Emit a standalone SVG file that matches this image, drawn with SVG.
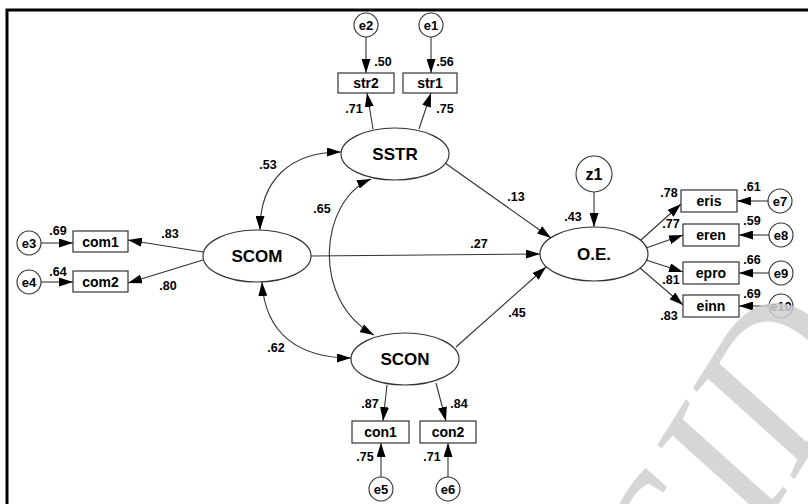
<svg xmlns="http://www.w3.org/2000/svg" width="808" height="504" viewBox="0 0 808 504">
<defs>
<marker id="ah" markerUnits="userSpaceOnUse" markerWidth="14" markerHeight="9" refX="14" refY="4.5" orient="auto-start-reverse" viewBox="0 0 14 9">
<path d="M0,0 L14,4.5 L0,9 z" fill="#000"/>
</marker>
<style>
.ln{stroke:#333;stroke-width:1.1;fill:none;marker-end:url(#ah)}
.cv{stroke:#333;stroke-width:1.1;fill:none;marker-start:url(#ah);marker-end:url(#ah)}
.lat{fill:#fff;stroke:#333;stroke-width:1.2}
.box{fill:#fff;stroke:#333;stroke-width:1.2}
.err{fill:#fff;stroke:#333;stroke-width:1.1}
.tl{font-family:"Liberation Sans",Arial,sans-serif;font-weight:bold;font-size:17px;text-anchor:middle}
.tb{font-family:"Liberation Sans",Arial,sans-serif;font-weight:bold;font-size:14px;text-anchor:middle}
.te{font-family:"Liberation Sans",Arial,sans-serif;font-weight:bold;font-size:13px;text-anchor:middle}
.n{font-family:"Liberation Sans",Arial,sans-serif;font-weight:bold;font-size:12.5px;text-anchor:middle}
</style>
</defs>
<rect x="0" y="0" width="808" height="504" fill="#fff"/>
<rect x="7" y="10" width="900" height="600" fill="none" stroke="#000" stroke-width="3"/>

<g id="connectors">
<path class="ln" d="M366 37 L366 73"/>
<path class="ln" d="M431 37 L431 73"/>
<path class="ln" d="M373 129 L367 93"/>
<path class="ln" d="M419 129 L431 93"/>
<path class="ln" d="M41 243 L73 243"/>
<path class="ln" d="M41 282 L73 282"/>
<path class="ln" d="M203 252 L128 240"/>
<path class="ln" d="M203 260 L128 283"/>
<path class="ln" d="M445 163 L551 238"/>
<path class="ln" d="M311 256 L540 254"/>
<path class="ln" d="M456 347 L546 267"/>
<path class="ln" d="M594 192 L594 227"/>
<path class="ln" d="M641 240 L681 204"/>
<path class="ln" d="M646 248 L683 235"/>
<path class="ln" d="M646 260 L683 272"/>
<path class="ln" d="M640 268 L683 305"/>
<path class="ln" d="M768 201 L737 201"/>
<path class="ln" d="M769 235 L739 235"/>
<path class="ln" d="M769 273 L739 273"/>
<path class="ln" d="M769 306 L739 306"/>
<path class="ln" d="M387 385 L383 421"/>
<path class="ln" d="M436 383 L446 421"/>
<path class="ln" d="M381 477 L381 443"/>
<path class="ln" d="M448 477 L448 443"/>
<path class="cv" d="M260 230 C260 180 290 152 341 152"/>
<path class="cv" d="M262 282 C265 335 300 358 351 358"/>
<path class="cv" d="M371 179 C320 200 310 300 374 335"/>
</g>

<g id="SSTR"><ellipse class="lat" cx="395" cy="154" rx="54" ry="26"/><text class="tl" x="395" y="160">SSTR</text></g>
<g id="SCOM"><ellipse class="lat" cx="257" cy="256" rx="54" ry="26"/><text class="tl" x="257" y="262">SCOM</text></g>
<g id="SCON"><ellipse class="lat" cx="405" cy="359" rx="54" ry="26"/><text class="tl" x="405" y="365">SCON</text></g>
<g id="OE"><ellipse class="lat" cx="594" cy="254" rx="54" ry="27"/><text class="tl" x="594" y="260">O.E.</text></g>

<g id="str2"><rect class="box" x="338" y="73" width="56" height="20"/><text class="tb" x="366" y="88">str2</text></g>
<g id="str1"><rect class="box" x="403" y="73" width="54" height="20"/><text class="tb" x="430" y="88">str1</text></g>
<g id="com1"><rect class="box" x="73" y="231" width="55" height="21"/><text class="tb" x="100.5" y="247">com1</text></g>
<g id="com2"><rect class="box" x="73" y="271" width="55" height="21"/><text class="tb" x="100.5" y="287">com2</text></g>
<g id="eris"><rect class="box" x="681" y="190" width="56" height="22"/><text class="tb" x="709" y="206">eris</text></g>
<g id="eren"><rect class="box" x="683" y="224" width="56" height="22"/><text class="tb" x="711" y="240">eren</text></g>
<g id="epro"><rect class="box" x="683" y="262" width="56" height="22"/><text class="tb" x="711" y="278">epro</text></g>
<g id="einn"><rect class="box" x="683" y="295" width="56" height="22"/><text class="tb" x="711" y="311">einn</text></g>
<g id="con1"><rect class="box" x="352" y="421" width="57" height="22"/><text class="tb" x="380.5" y="437">con1</text></g>
<g id="con2"><rect class="box" x="420" y="421" width="56" height="22"/><text class="tb" x="448" y="437">con2</text></g>

<g id="e1"><circle class="err" cx="431" cy="25" r="12"/><text class="te" x="431" y="29.5">e1</text></g>
<g id="e2"><circle class="err" cx="366" cy="25" r="12"/><text class="te" x="366" y="29.5">e2</text></g>
<g id="e3"><circle class="err" cx="29" cy="243" r="12"/><text class="te" x="29" y="247.5">e3</text></g>
<g id="e4"><circle class="err" cx="29" cy="282" r="12"/><text class="te" x="29" y="286.5">e4</text></g>
<g id="e5"><circle class="err" cx="381" cy="489" r="12"/><text class="te" x="381" y="493.5">e5</text></g>
<g id="e6"><circle class="err" cx="448" cy="489" r="12"/><text class="te" x="448" y="493.5">e6</text></g>
<g id="e7"><circle class="err" cx="780" cy="201" r="12"/><text class="te" x="780" y="205.5">e7</text></g>
<g id="e8"><circle class="err" cx="781" cy="235" r="12"/><text class="te" x="781" y="239.5">e8</text></g>
<g id="e9"><circle class="err" cx="781" cy="273" r="12"/><text class="te" x="781" y="277.5">e9</text></g>
<g id="e10"><circle class="err" cx="781" cy="306" r="12"/><text class="te" x="781" y="310.5">e10</text></g>
<g id="z1"><circle class="err" cx="594" cy="174" r="18"/><text class="tb" x="594" y="180" style="font-size:16px">z1</text></g>

<g id="labels">
<text class="n" x="383" y="66">.50</text>
<text class="n" x="445" y="66">.56</text>
<text class="n" x="354" y="113">.71</text>
<text class="n" x="445" y="113">.75</text>
<text class="n" x="268" y="169">.53</text>
<text class="n" x="322" y="213">.65</text>
<text class="n" x="276" y="352">.62</text>
<text class="n" x="516" y="201">.13</text>
<text class="n" x="479" y="248">.27</text>
<text class="n" x="517" y="317">.45</text>
<text class="n" x="573" y="221">.43</text>
<text class="n" x="58" y="235">.69</text>
<text class="n" x="58" y="276">.64</text>
<text class="n" x="170" y="238">.83</text>
<text class="n" x="168" y="290">.80</text>
<text class="n" x="669" y="197">.78</text>
<text class="n" x="671" y="228">.77</text>
<text class="n" x="671" y="284">.81</text>
<text class="n" x="669" y="320">.83</text>
<text class="n" x="752" y="191">.61</text>
<text class="n" x="752" y="225">.59</text>
<text class="n" x="752" y="264">.66</text>
<text class="n" x="752" y="298">.69</text>
<text class="n" x="370" y="408">.87</text>
<text class="n" x="459" y="408">.84</text>
<text class="n" x="365" y="461">.75</text>
<text class="n" x="432" y="461">.71</text>
</g>

<text x="0" y="0" transform="translate(705,622) rotate(-58)" font-family="Liberation Serif, serif" font-style="italic" font-size="205" fill="#cfcfcf" fill-opacity="0.85">SID</text>
</svg>
